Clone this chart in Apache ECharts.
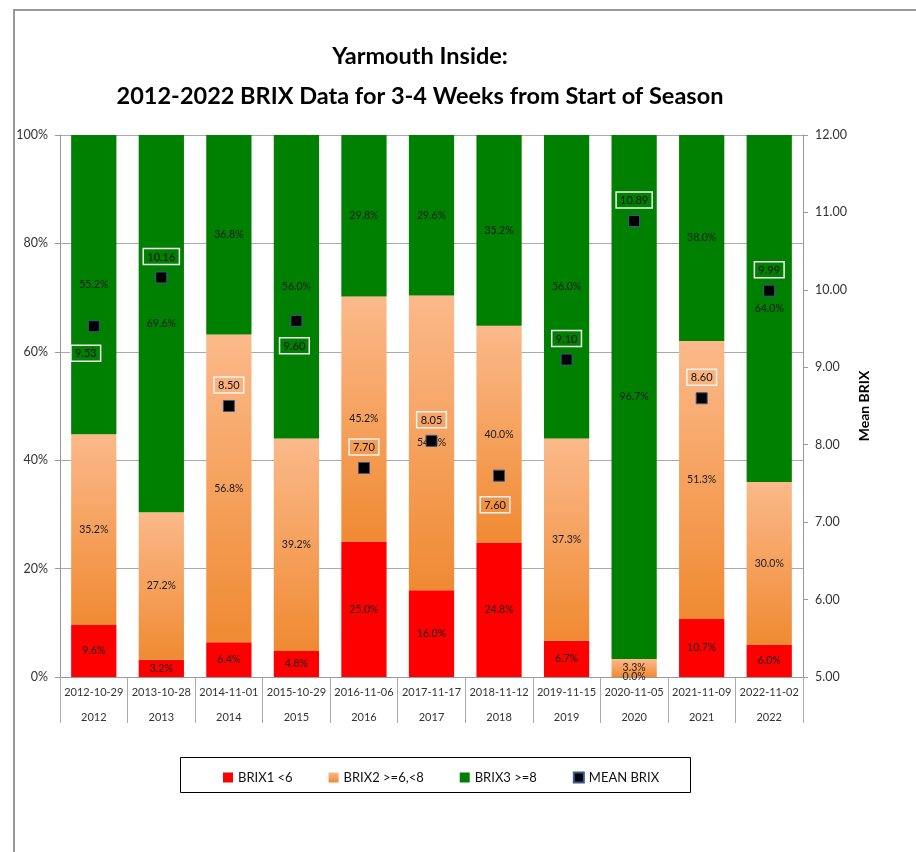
<!DOCTYPE html>
<html>
<head>
<meta charset="utf-8">
<script src="https://cdn.jsdelivr.net/npm/echarts@6/dist/echarts.min.js"></script>
<style>
html,body{margin:0;padding:0;background:#fff;}
#chart{width:916px;height:852px;}
</style>
</head>
<body>
<div id="chart"></div>
<script>
// ---- data ----
const dates = ['2012-10-29','2013-10-28','2014-11-01','2015-10-29','2016-11-06','2017-11-17','2018-11-12','2019-11-15','2020-11-05','2021-11-09','2022-11-02'];
const years = ['2012','2013','2014','2015','2016','2017','2018','2019','2020','2021','2022'];
const brix1 = [9.6, 3.2, 6.4, 4.8, 25.0, 16.0, 24.8, 6.7, 0.0, 10.7, 6.0];
const brix2 = [35.2, 27.2, 56.8, 39.2, 45.2, 54.4, 40.0, 37.3, 3.3, 51.3, 30.0];
const brix3 = [55.2, 69.6, 36.8, 56.0, 29.8, 29.6, 35.2, 56.0, 96.7, 38.0, 64.0];
const meanBrix = [9.53, 10.16, 8.50, 9.60, 7.70, 8.05, 7.60, 9.10, 10.89, 8.60, 9.99];
const seriesNames = ['BRIX1 <6', 'BRIX2 >=6,<8', 'BRIX3 >=8', 'MEAN BRIX'];

// ---- styling ----
const FONT = 'Lato';
const meanLabelStyle = [
  {position:'bottom', offset:[-8,8]},
  {position:'top', offset:[0,-2]},
  {position:'top', offset:[0,-2]},
  {position:'bottom', offset:[-2,6]},
  {position:'top', offset:[0,-2]},
  {position:'top', offset:[0,-2]},
  {position:'bottom', offset:[-4,10]},
  {position:'top', offset:[0,-2]},
  {position:'top', offset:[0,-2]},
  {position:'top', offset:[0,-2]},
  {position:'top', offset:[0,-2]}
];

const pctLabel = {
  show: true, position: 'inside', fontSize: 10.5, color: '#1a1a1a', fontFamily: FONT,
  formatter: p => p.value.toFixed(1) + '%'
};

const chart = echarts.init(document.getElementById('chart'), null, {renderer:'canvas'});
chart.setOption({
  animation: false,
  textStyle: {fontFamily: FONT},
  title: {
    text: 'Yarmouth Inside:\n2012-2022 BRIX Data for 3-4 Weeks from Start of Season',
    left: 415, top: 31, textAlign: 'center',
    textStyle: {fontSize: 23.5, fontWeight: 'bold', color: '#000', lineHeight: 40, fontFamily: FONT}
  },
  graphic: [
    {type:'polyline', shape:{points:[[14,852],[14,10],[916,10]]}, style:{stroke:'#999', lineWidth:2, fill:null}},
    {type:'rect', shape:{x:180.5, y:757.5, width:510, height:35}, style:{stroke:'#000', lineWidth:1, fill:null}}
  ],
  legend: {
    data: seriesNames.map(n => ({name:n, icon:'rect'})),
    left: 218, top: 766, itemWidth: 10, itemHeight: 10, itemGap: 36,
    textStyle: {fontSize: 13, color: '#111', fontFamily: FONT}
  },
  grid: {left: 60, right: 113, top: 135, bottom: 175, containLabel: false},
  xAxis: [
    {
      type: 'category', data: dates, position: 'bottom',
      axisLine: {show: true, lineStyle: {color: '#999'}},
      axisTick: {show: true, length: 46, interval: 0, lineStyle: {color: '#aaa'}},
      axisLabel: {fontSize: 11, color: '#333', margin: 10, interval: 0}
    },
    {
      type: 'category', data: years, position: 'bottom', offset: 25,
      axisLine: {show: false}, axisTick: {show: false},
      axisLabel: {fontSize: 11, color: '#333', margin: 10, interval: 0}
    }
  ],
  yAxis: [
    {
      type: 'value', min: 0, max: 100, interval: 20,
      axisLine: {show: true, lineStyle: {color: '#999'}},
      axisTick: {show: true, length: 5, lineStyle: {color: '#999'}},
      axisLabel: {formatter: '{value}%', fontSize: 12.5, color: '#333', margin: 12},
      splitLine: {show: true, lineStyle: {color: '#aaa', width: 1}}
    },
    {
      type: 'value', min: 5, max: 12, interval: 1, position: 'right',
      name: 'Mean BRIX', nameLocation: 'middle', nameGap: 50, nameRotate: 90,
      nameTextStyle: {fontSize: 14, fontWeight: 'bold', color: '#000'},
      axisLine: {show: true, lineStyle: {color: '#999'}},
      axisTick: {show: true, length: 5, lineStyle: {color: '#999'}},
      axisLabel: {formatter: v => v.toFixed(2), fontSize: 12.5, color: '#333', margin: 12},
      splitLine: {show: false}
    }
  ],
  series: [
    {
      name: seriesNames[0], type: 'bar', stack: 'b', data: brix1, barCategoryGap: '33%',
      itemStyle: {color: '#FF0000'}, label: pctLabel
    },
    {
      name: seriesNames[1], type: 'bar', stack: 'b', data: brix2,
      itemStyle: {color: new echarts.graphic.LinearGradient(0,0,0,1,[
        {offset:0, color:'#FBB98A'}, {offset:1, color:'#F08A32'}])},
      label: pctLabel
    },
    {
      name: seriesNames[2], type: 'bar', stack: 'b', data: brix3,
      itemStyle: {color: '#008000'}, label: pctLabel
    },
    {
      name: seriesNames[3], type: 'line', yAxisIndex: 1, z: 10,
      data: meanBrix.map((v, i) => ({
        value: v,
        label: meanLabelStyle[i]
      })),
      symbol: 'rect', symbolSize: 11,
      lineStyle: {width: 0, opacity: 0},
      itemStyle: {color: '#000', borderColor: '#3B5A8C', borderWidth: 1},
      label: {
        show: true, fontSize: 11, color: '#111', fontFamily: FONT,
        formatter: p => p.value.toFixed(2),
        borderColor: '#f2f2f2', borderWidth: 1.5, padding: [3, 4, 2, 4]
      }
    }
  ]
});
</script>
</body>
</html>
